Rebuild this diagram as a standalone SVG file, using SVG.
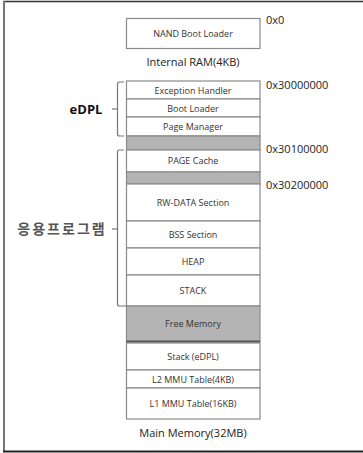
<svg xmlns="http://www.w3.org/2000/svg" width="363" height="453" viewBox="0 0 363 453">
<style>
.cell{fill:#ffffff;stroke:#8a8a8a;stroke-width:1.2}
.gray{fill:#b4b4b4;stroke:#8a8a8a;stroke-width:1.2}
.t{font-family:"Comic Sans MS","Open Sans","Liberation Sans",sans-serif;font-size:9px;fill:#333;text-anchor:middle}
.cap{font-family:"Comic Sans MS","Open Sans","Liberation Sans",sans-serif;font-size:11px;fill:#222;text-anchor:middle}
.addr{font-family:"Open Sans","Liberation Sans",sans-serif;font-size:11px;fill:#222}
.br{fill:none;stroke:#777;stroke-width:1.2}
</style>
<rect x="0" y="0" width="363" height="453" fill="#fff"/>
<g id="frame">
<line x1="3" y1="1.5" x2="363" y2="1.5" stroke="#333" stroke-width="1.5"/>
<line x1="4" y1="1" x2="4" y2="452" stroke="#777" stroke-width="2"/>
<line x1="3" y1="451.5" x2="363" y2="451.5" stroke="#222" stroke-width="2"/>
</g>
<g id="nand">
<rect class="cell" x="126.5" y="18.5" width="133.5" height="30"/>
<text class="t" x="193" y="37">NAND Boot Loader</text>
</g>
<text class="cap" x="193" y="66">Internal RAM(4KB)</text>
<g id="exception"><rect class="cell" x="126.5" y="81" width="133.5" height="18"/><text class="t" x="193" y="93.5">Exception Handler</text></g>
<g id="bootloader"><rect class="cell" x="126.5" y="99" width="133.5" height="18"/><text class="t" x="193" y="111.5">Boot Loader</text></g>
<g id="pagemanager"><rect class="cell" x="126.5" y="117" width="133.5" height="19"/><text class="t" x="193" y="130">Page Manager</text></g>
<g id="gap1"><rect class="gray" x="126.5" y="136" width="133.5" height="14"/></g>
<g id="pagecache"><rect class="cell" x="126.5" y="150" width="133.5" height="22"/><text class="t" x="193" y="164">PAGE Cache</text></g>
<g id="gap2"><rect class="gray" x="126.5" y="172" width="133.5" height="12"/></g>
<g id="rwdata"><rect class="cell" x="126.5" y="184" width="133.5" height="37"/><text class="t" x="193" y="206">RW-DATA Section</text></g>
<g id="bss"><rect class="cell" x="126.5" y="221" width="133.5" height="27"/><text class="t" x="193" y="238">BSS Section</text></g>
<g id="heap"><rect class="cell" x="126.5" y="248" width="133.5" height="27"/><text class="t" x="193" y="265">HEAP</text></g>
<g id="stack"><rect class="cell" x="126.5" y="275" width="133.5" height="31"/><text class="t" x="193" y="294">STACK</text></g>
<g id="free"><rect class="gray" x="126.5" y="306" width="133.5" height="36"/><line x1="126.5" y1="341.5" x2="260" y2="341.5" stroke="#555" stroke-width="2"/><text class="t" x="193" y="327">Free Memory</text></g>
<g id="stackedpl"><rect class="cell" x="126.5" y="343" width="133.5" height="27"/><text class="t" x="193" y="359.5">Stack (eDPL)</text></g>
<g id="l2"><rect class="cell" x="126.5" y="370" width="133.5" height="18"/><text class="t" x="193" y="382.5">L2 MMU Table(4KB)</text></g>
<g id="l1"><rect class="cell" x="126.5" y="388" width="133.5" height="31"/><text class="t" x="193" y="407">L1 MMU Table(16KB)</text></g>
<text class="cap" x="193" y="437">Main Memory(32MB)</text>
<g id="addresses">
<text class="addr" x="266" y="24">0x0</text>
<text class="addr" x="266" y="89">0x30000000</text>
<text class="addr" x="266" y="153">0x30100000</text>
<text class="addr" x="266" y="189">0x30200000</text>
</g>
<g id="connectors">
<path class="br" d="M124,82 H119.5 Q117.5,82 117.5,84 V134 Q117.5,136 119.5,136 H124"/>
<line class="br" x1="112" y1="109" x2="117.5" y2="109"/>
<path class="br" d="M124,150 H119.5 Q117.5,150 117.5,152 V304 Q117.5,306 119.5,306 H126"/>
<line class="br" x1="112" y1="229" x2="117.5" y2="229"/>
</g>
<g id="edpl"><text x="86" y="114" font-family="'Open Sans','Liberation Sans',sans-serif" font-size="13" font-weight="bold" fill="#111" text-anchor="middle">eDPL</text></g>
<g id="app"><text x="62" y="234" font-family="'Noto Sans CJK KR',sans-serif" font-size="14" font-weight="bold" fill="#555" text-anchor="middle" letter-spacing="2">응용프로그램</text></g>
</svg>
